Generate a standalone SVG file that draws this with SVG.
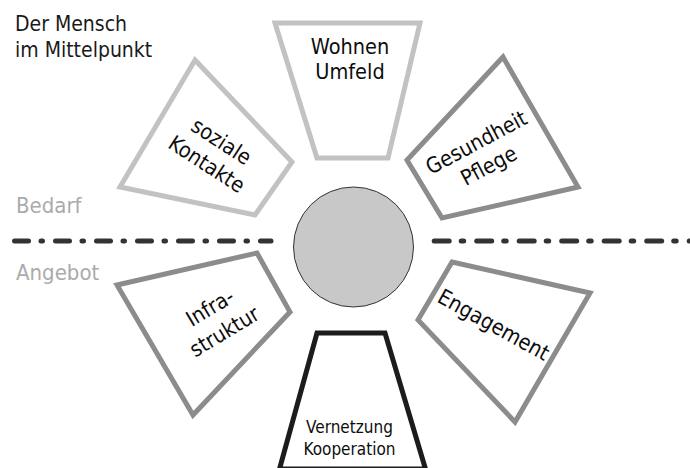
<svg xmlns="http://www.w3.org/2000/svg" width="690" height="468" viewBox="0 0 690 468">
  <style>
    .shape { fill: #ffffff; stroke-width: 5; stroke-linejoin: miter; }
    .light { stroke: #c2c2c2; }
    .mid { stroke: #8c8c8c; }
    .dark { stroke: #1c1c1c; }
    .lbl { font-family: "DejaVu Sans Condensed", "DejaVu Sans", Verdana, sans-serif; font-size: 21.5px; fill: #0d0d0d; text-anchor: middle; }
    .small { font-size: 17px; }
    .side { font-family: "DejaVu Sans Condensed", "DejaVu Sans", Verdana, sans-serif; font-size: 22px; fill: #ababab; }
    .title { font-family: "DejaVu Sans Condensed", "DejaVu Sans", Verdana, sans-serif; font-size: 21px; fill: #1a1a1a; }
    .divider { fill: none; stroke: #333333; stroke-width: 5; stroke-linecap: round; }
  </style>

  <g id="title">
    <text class="title" x="15" y="31">Der Mensch</text>
    <text class="title" x="15" y="57">im Mittelpunkt</text>
  </g>

  <g id="labels">
    <text class="side" x="16" y="213">Bedarf</text>
    <text class="side" x="16" y="280">Angebot</text>
  </g>

  <g id="connectors">
    <path class="divider" d="M9.5 241 H271" stroke-dasharray="14 12.5 1.5 13" stroke-dashoffset="36"/>
    <path class="divider" d="M434.2 241 H690" stroke-dasharray="15 12 2.5 13"/>
  </g>

  <g id="center">
    <circle cx="353.5" cy="247" r="60" fill="#c8c8c8" stroke="#333333" stroke-width="1"/>
  </g>

  <g id="wohnen">
    <polygon class="shape light" points="275,23 420,23 388,158 317,158"/>
    <text class="lbl" x="350" y="53.5">Wohnen</text>
    <text class="lbl" x="350" y="79">Umfeld</text>
  </g>

  <g id="soziale">
    <polygon class="shape light" points="195,60 292,162 255,215 120,187"/>
    <g transform="translate(210 159) rotate(33)">
      <text class="lbl" x="0" y="-13.5">soziale</text>
      <text class="lbl" x="0" y="13.5">Kontakte</text>
    </g>
  </g>

  <g id="gesundheit">
    <polygon class="shape mid" points="503,57 578,187 442,218 407,160"/>
    <g transform="translate(486 160.6) rotate(-28)">
      <text class="lbl" x="0" y="-13.2">Gesundheit</text>
      <text class="lbl" x="0" y="13.2">Pflege</text>
    </g>
  </g>

  <g id="infrastruktur">
    <polygon class="shape mid" points="117,285 257,253 290,312 193,415"/>
    <g transform="translate(221 326) rotate(-31)">
      <text class="lbl" x="0" y="-14">Infra-</text>
      <text class="lbl" x="0" y="14">struktur</text>
    </g>
  </g>

  <g id="engagement">
    <polygon class="shape mid" points="452,262 590,293 515,422 418,320"/>
    <g transform="translate(493 326) rotate(29)">
      <text class="lbl" x="0" y="6">Engagement</text>
    </g>
  </g>

  <g id="vernetzung">
    <polygon class="shape dark" points="317,333 385,333 425.5,469 279.5,469"/>
    <text class="lbl small" x="349.5" y="433">Vernetzung</text>
    <text class="lbl small" x="349.5" y="455">Kooperation</text>
  </g>
</svg>
